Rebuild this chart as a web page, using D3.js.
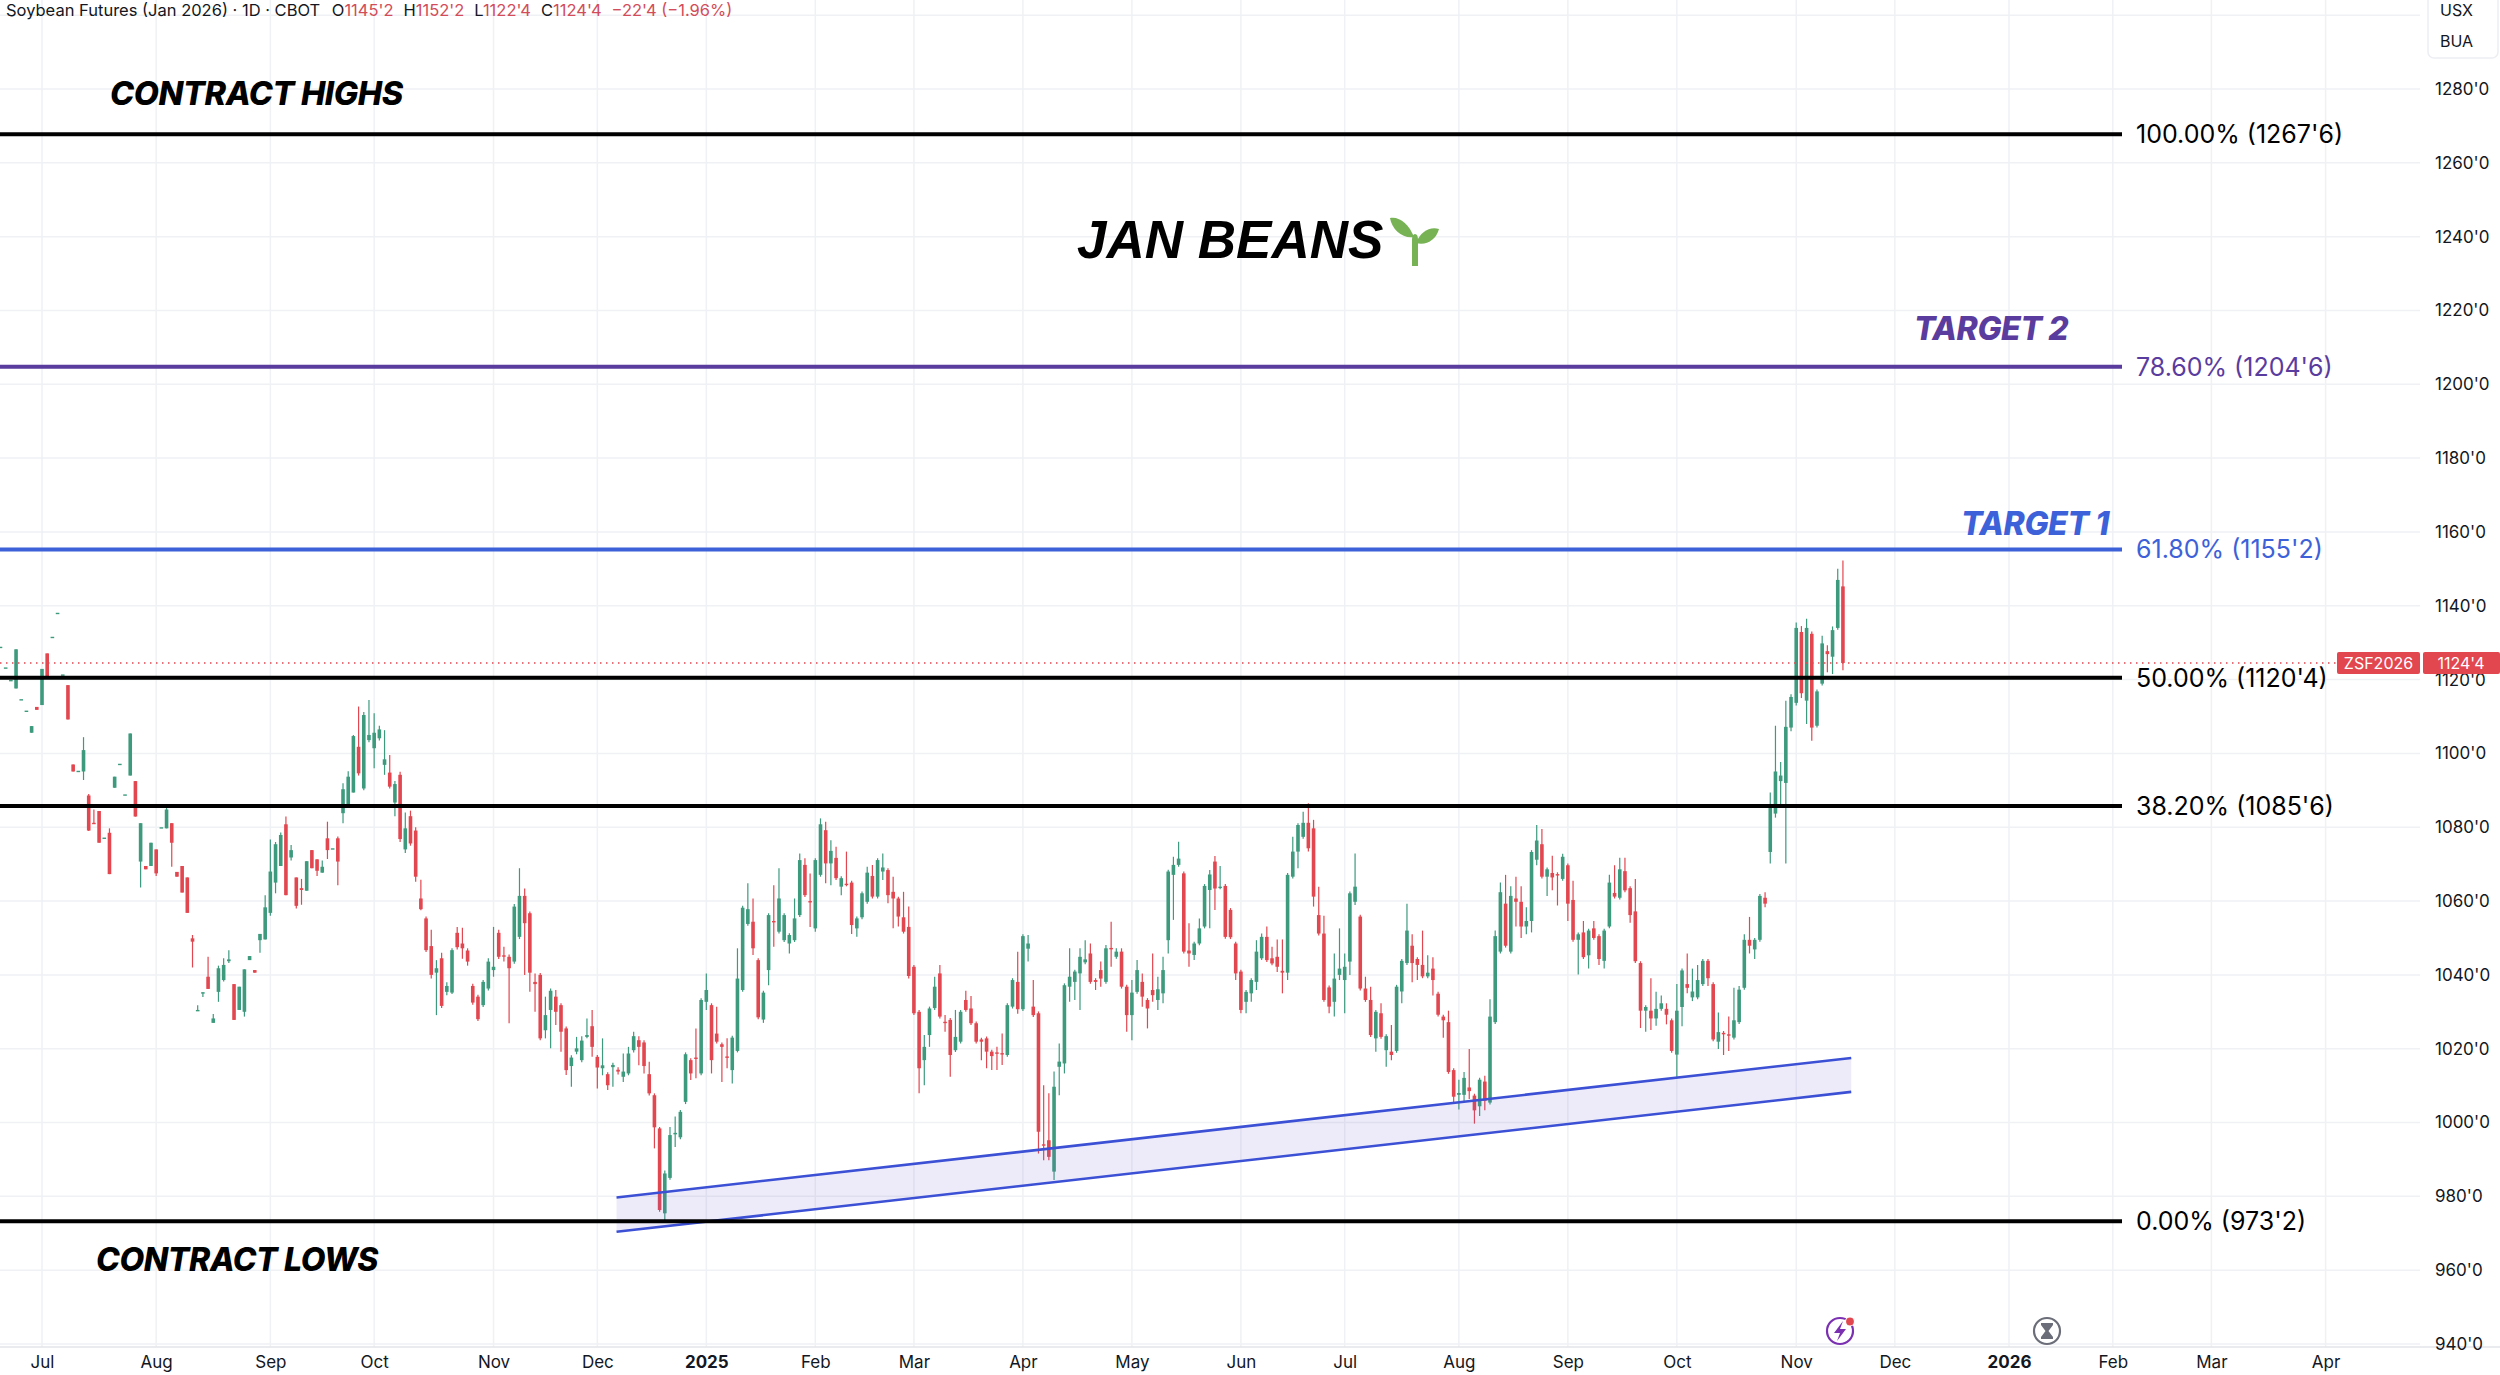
<!DOCTYPE html>
<html>
<head>
<meta charset="utf-8">
<script src="https://cdn.jsdelivr.net/npm/d3@7"></script>
<style>
  body { margin: 0; background: #ffffff; }
  svg { display: block; }
  text { white-space: pre; }
</style>
</head>
<body>
<div id="chart"></div>
<script>
// Daily OHLC of ZSF2026, first bar is 8 sessions before Jul 1 2024
var firstBar = -8;

var opens = [
  1128.9,1123.3,1119.9,1117.6,1114.7,1111.6,1105.6,1112.6,1113.1,1127.1,
  1131.6,1138.1,1121.4,1118.5,1097.0,1095.3,1095.1,1088.6,1081.2,1084.4,
  1077.2,1078.5,1090.7,1097.2,1088.9,1094.0,1092.5,1070.7,1069.5,1069.5,
  1074.0,1080.0,1079.7,1081.1,1067.9,1069.5,1066.4,1049.9,1030.5,1035.3,
  1039.5,1027.0,1035.4,1038.6,1043.7,1037.5,1030.5,1030.0,1044.0,1041.3,
  1049.4,1049.6,1056.8,1065.0,1069.5,1080.8,1071.8,1066.4,1063.5,1062.8,
  1073.8,1071.3,1067.7,1077.0,1074.3,1077.0,1083.8,1086.0,1089.4,1101.8,
  1090.5,1103.6,1101.4,1104.1,1096.9,1094.8,1086.7,1094.2,1074.0,1083.0,
  1079.1,1060.7,1055.3,1047.8,1040.6,1044.5,1035.4,1035.2,1051.4,1048.5,
  1046.6,1037.0,1034.1,1031.8,1036.3,1041.3,1051.4,1045.3,1044.9,1043.6,
  1050.3,1061.4,1056.7,1038.1,1040.0,1025.0,1030.5,1034.1,1031.8,1025.5,
  1015.3,1019.2,1016.9,1023.2,1026.1,1017.8,1014.7,1013.1,1015.0,1014.3,
  1012.4,1013.3,1019.6,1022.3,1021.7,1013.1,1007.4,998.4,975.4,985.0,
  996.8,996.0,1005.6,1016.9,1017.6,1013.3,1032.7,1031.8,1024.1,1021.2,
  1017.9,1014.2,1019.4,1035.9,1053.8,1054.4,1044.0,1027.9,1041.3,1054.6,
  1051.7,1049.4,1048.5,1049.4,1056.2,1069.8,1060.0,1052.6,1067.1,1079.2,
  1070.2,1071.7,1063.9,1064.7,1065.0,1052.6,1055.6,1059.8,1066.8,1061.2,
  1068.0,1068.4,1062.5,1060.7,1055.6,1053.0,1042.2,1030.0,1016.9,1023.7,
  1031.0,1040.4,1027.3,1027.8,1019.6,1021.9,1033.2,1030.9,1026.9,1022.5,
  1022.8,1019.2,1019.0,1018.8,1018.3,1031.4,1038.1,1030.7,1047.1,1031.4,
  1029.6,994.1,995.2,986.7,1015.1,1016.0,1036.8,1038.1,1040.4,1043.4,
  1045.8,1038.6,1041.3,1038.1,1047.3,1044.9,1046.3,1036.8,1029.1,1035.4,
  1038.1,1033.2,1035.9,1033.2,1035.0,1049.4,1067.1,1069.8,1067.5,1046.6,
  1045.4,1048.5,1053.1,1063.0,1070.7,1063.7,1064.1,1057.6,1048.5,1040.9,
  1032.7,1035.0,1038.1,1044.5,1050.3,1044.5,1044.9,1041.1,1040.6,1066.6,
  1073.4,1077.4,1081.2,1079.7,1056.2,1051.2,1036.6,1032.7,1040.0,1038.6,
  1043.6,1059.8,1055.8,1036.3,1033.2,1022.8,1029.6,1019.6,1019.2,1019.4,
  1035.5,1043.2,1047.9,1044.3,1042.7,1039.6,1041.7,1034.9,1028.7,1027.2,
  1014.2,1007.5,1007.5,1009.5,1007.3,1004.4,1011.1,1005.4,1027.2,1046.3,
  1059.3,1046.3,1060.7,1059.8,1053.1,1054.6,1071.2,1075.4,1066.6,1067.6,
  1067.3,1066.0,1069.7,1060.3,1049.5,1051.5,1045.3,1052.6,1050.5,1043.8,
  1053.1,1062.2,1060.9,1068.1,1063.5,1057.2,1043.2,1030.3,1030.3,1028.2,
  1030.8,1030.8,1027.7,1018.4,1031.3,1037.5,1033.9,1033.9,1037.5,1043.8,
  1037.5,1021.9,1024.3,1023.9,1023.0,1027.2,1036.5,1049.5,1046.9,1049.5,
  1060.9,1073.3,1083.7,1092.5,1092.0,1107.0,1113.7,1132.9,1114.3,1132.4,
  1107.5,1118.9,1127.7,1126.2,1134.0,1145.25
];

var highs = [
  1128.9,1123.3,1119.9,1128.2,1114.7,1111.6,1107.4,1112.6,1122.9,1127.1,
  1131.6,1138.1,1121.4,1118.5,1097.0,1095.3,1104.4,1089.0,1084.8,1084.4,
  1077.2,1079.7,1093.7,1097.2,1088.9,1105.4,1092.5,1081.1,1069.5,1075.8,
  1074.0,1080.0,1085.5,1081.1,1067.9,1069.5,1066.4,1050.8,1031.8,1035.3,
  1044.9,1029.4,1042.5,1044.5,1046.7,1037.5,1036.8,1041.5,1045.1,1041.3,
  1051.1,1061.6,1076.7,1076.0,1078.6,1082.9,1075.2,1066.4,1066.0,1070.8,
  1073.8,1071.3,1071.0,1081.5,1074.3,1077.5,1091.9,1095.2,1105.0,1112.7,
  1111.2,1114.5,1110.9,1107.5,1106.3,1099.6,1092.5,1095.0,1084.0,1084.5,
  1080.0,1065.8,1055.8,1052.2,1044.0,1046.0,1038.0,1047.2,1053.0,1052.8,
  1047.2,1037.6,1034.6,1038.6,1044.5,1053.0,1052.2,1047.6,1045.5,1059.2,
  1068.9,1063.4,1057.2,1040.4,1040.5,1034.1,1036.3,1035.9,1032.3,1026.0,
  1018.2,1023.2,1023.4,1028.2,1030.5,1018.3,1022.8,1013.6,1016.2,1015.0,
  1018.7,1020.5,1024.6,1023.4,1022.3,1016.5,1007.9,998.8,987.0,998.8,
  1001.6,1003.4,1019.0,1017.4,1025.5,1033.7,1040.4,1032.3,1031.4,1021.7,
  1022.8,1023.5,1047.2,1058.7,1064.8,1060.7,1044.5,1035.7,1056.7,1064.3,
  1068.9,1056.7,1051.3,1060.7,1072.9,1071.6,1067.5,1071.6,1082.4,1081.5,
  1076.5,1074.7,1066.7,1073.4,1065.5,1055.8,1062.6,1069.3,1069.8,1071.6,
  1072.9,1068.9,1066.6,1061.2,1062.5,1058.5,1042.7,1030.5,1023.7,1031.4,
  1039.5,1042.7,1029.1,1028.3,1030.5,1030.5,1035.7,1034.3,1027.4,1023.0,
  1023.3,1019.7,1020.5,1024.1,1032.3,1039.1,1046.3,1051.0,1050.8,1038.6,
  1030.1,1010.1,1007.9,1013.8,1021.4,1037.7,1047.2,1041.4,1047.2,1049.4,
  1048.5,1039.1,1043.6,1048.1,1054.4,1047.2,1047.2,1037.3,1038.6,1044.0,
  1040.4,1033.7,1045.8,1039.5,1044.9,1068.5,1072.0,1076.1,1068.0,1054.0,
  1049.0,1055.3,1064.6,1068.4,1072.2,1069.5,1064.6,1058.1,1049.0,1041.4,
  1035.9,1039.1,1049.4,1051.2,1053.1,1047.6,1049.6,1049.6,1067.6,1077.4,
  1081.1,1084.2,1086.5,1082.0,1063.9,1056.0,1037.1,1045.8,1052.6,1045.8,
  1062.6,1072.9,1056.3,1039.5,1036.8,1030.5,1032.3,1023.9,1026.4,1037.3,
  1044.3,1059.3,1051.0,1044.8,1052.0,1045.3,1044.8,1035.4,1029.2,1030.3,
  1014.7,1011.6,1013.7,1019.9,1007.8,1012.1,1012.7,1033.4,1052.0,1065.0,
  1067.1,1064.0,1066.6,1064.0,1058.3,1073.8,1080.6,1079.5,1069.1,1072.3,
  1067.8,1072.8,1070.2,1065.5,1051.5,1054.6,1052.5,1054.6,1051.0,1052.5,
  1067.1,1069.7,1071.7,1071.7,1064.0,1066.0,1043.7,1031.8,1039.1,1035.4,
  1034.4,1032.3,1028.2,1037.5,1041.7,1045.8,1041.7,1042.7,1044.3,1044.3,
  1038.0,1029.8,1024.8,1028.7,1036.5,1037.0,1051.0,1055.7,1050.0,1061.9,
  1062.4,1089.4,1107.5,1097.7,1114.3,1116.0,1135.5,1134.5,1136.5,1133.0,
  1117.3,1131.9,1129.3,1134.4,1150.0,1152.25
];

var lows = [
  1128.9,1123.3,1119.9,1117.6,1114.7,1111.6,1105.6,1111.8,1113.1,1120.4,
  1131.6,1138.1,1121.4,1109.2,1095.1,1095.3,1092.8,1079.0,1080.9,1075.8,
  1077.2,1067.3,1090.7,1097.2,1088.9,1094.0,1082.9,1063.7,1068.6,1069.5,
  1066.8,1080.0,1079.7,1069.3,1066.6,1062.3,1056.8,1042.0,1030.5,1034.0,
  1036.2,1027.0,1032.7,1038.2,1043.2,1027.8,1030.5,1028.7,1044.0,1040.6,
  1046.0,1049.6,1056.0,1062.1,1069.5,1061.6,1071.0,1058.0,1059.0,1062.8,
  1068.9,1066.8,1067.7,1071.4,1074.3,1064.3,1081.1,1086.0,1089.4,1094.0,
  1090.0,1103.0,1096.0,1103.5,1094.2,1090.5,1083.0,1076.0,1073.0,1075.0,
  1065.2,1057.5,1046.2,1039.0,1029.1,1031.0,1034.5,1034.8,1046.9,1044.4,
  1042.5,1031.9,1027.5,1031.3,1035.8,1039.5,1044.3,1043.6,1026.9,1043.0,
  1049.7,1040.0,1035.4,1030.0,1022.3,1022.8,1020.1,1026.4,1019.2,1012.9,
  1009.7,1018.5,1016.3,1022.8,1017.8,1009.2,1012.8,1008.8,1009.7,1013.0,
  1011.0,1012.8,1019.0,1015.5,1013.3,1007.3,993.0,975.8,973.25,984.5,
  993.4,995.5,1005.0,1011.5,1012.0,1012.8,1030.5,1013.3,1021.4,1011.0,
  1014.7,1010.6,1019.0,1035.4,1053.3,1045.4,1028.0,1027.0,1037.2,1047.6,
  1051.2,1048.9,1045.8,1048.9,1055.7,1061.1,1053.0,1051.7,1066.6,1064.8,
  1064.3,1065.7,1061.6,1064.0,1051.1,1050.3,1055.1,1059.3,1060.7,1060.7,
  1065.7,1059.4,1052.6,1053.1,1051.2,1039.0,1029.1,1007.9,1010.1,1020.5,
  1030.5,1028.2,1024.6,1012.4,1019.1,1021.4,1030.0,1026.4,1021.4,1016.9,
  1014.7,1014.2,1014.2,1015.6,1017.8,1030.9,1029.5,1030.2,1043.6,1028.6,
  991.6,989.8,989.8,984.4,1007.4,1013.3,1032.7,1033.2,1030.5,1042.9,
  1037.6,1035.9,1036.8,1037.6,1042.2,1044.4,1036.3,1024.6,1022.3,1034.9,
  1031.4,1025.5,1032.7,1030.5,1032.3,1045.8,1054.9,1069.3,1045.8,1042.2,
  1044.0,1048.0,1052.6,1052.6,1057.6,1063.2,1049.8,1049.7,1038.6,1029.6,
  1029.6,1032.7,1035.9,1044.0,1043.5,1042.6,1040.8,1035.0,1038.6,1066.1,
  1068.9,1076.9,1073.4,1058.5,1050.7,1032.7,1029.6,1028.7,1038.6,1029.6,
  1040.0,1058.9,1035.8,1032.7,1023.2,1019.2,1022.7,1015.1,1016.9,1018.9,
  1032.3,1042.7,1038.0,1038.6,1039.1,1039.1,1034.4,1028.7,1023.0,1013.2,
  1005.4,1003.5,1005.4,1006.4,999.7,1001.8,1003.3,1004.9,1026.7,1045.8,
  1047.4,1045.8,1053.1,1050.0,1051.0,1051.5,1069.7,1066.1,1061.4,1062.9,
  1058.8,1065.5,1054.6,1049.0,1040.1,1044.3,1041.7,1049.5,1042.7,1041.7,
  1052.6,1060.7,1060.4,1062.4,1054.1,1043.2,1025.6,1024.6,1025.1,1026.2,
  1030.3,1026.6,1018.9,1012.1,1026.1,1035.0,1032.9,1033.4,1037.0,1037.0,
  1022.0,1019.9,1018.3,1019.4,1022.5,1026.7,1036.0,1045.8,1044.3,1049.0,
  1058.3,1070.2,1082.6,1085.2,1070.2,1106.0,1113.0,1115.0,1108.0,1103.4,
  1107.0,1118.4,1122.0,1121.5,1133.5,1122.5
];

var closes = [
  1128.9,1123.3,1119.9,1128.2,1114.7,1111.6,1107.4,1111.8,1122.9,1120.4,
  1131.6,1138.1,1121.4,1109.2,1095.1,1095.3,1100.9,1079.1,1080.9,1075.8,
  1077.2,1067.3,1093.7,1097.2,1088.9,1105.4,1082.9,1081.1,1068.6,1075.8,
  1067.5,1080.0,1084.8,1075.8,1066.6,1062.3,1056.8,1049.0,1030.5,1035.3,
  1036.2,1028.2,1041.8,1042.7,1044.2,1027.8,1036.8,1041.5,1045.1,1040.6,
  1051.1,1058.3,1068.0,1075.4,1077.9,1061.6,1073.8,1058.7,1063.0,1070.8,
  1068.9,1068.2,1069.3,1073.8,1074.3,1070.7,1090.3,1093.7,1104.7,1094.6,
  1110.4,1105.0,1105.6,1106.5,1098.4,1091.0,1091.7,1076.8,1079.7,1075.6,
  1066.6,1057.8,1046.7,1040.0,1041.8,1031.6,1037.0,1046.7,1047.5,1047.2,
  1043.6,1032.5,1028.0,1038.1,1043.6,1042.2,1044.9,1045.0,1041.8,1058.5,
  1061.4,1054.0,1040.6,1037.5,1022.8,1029.1,1035.7,1030.0,1024.6,1014.2,
  1017.6,1020.1,1022.2,1023.7,1020.5,1014.9,1015.5,1010.1,1015.6,1013.8,
  1013.8,1018.7,1023.4,1020.5,1015.3,1007.9,998.7,976.3,986.2,996.6,
  997.2,1002.9,1018.5,1013.3,1017.4,1033.2,1035.9,1016.9,1021.9,1020.5,
  1017.8,1023.0,1039.0,1058.2,1057.8,1047.2,1028.5,1035.2,1056.2,1054.4,
  1060.7,1056.2,1050.8,1055.3,1071.1,1061.6,1059.8,1071.1,1080.8,1070.2,
  1073.6,1066.2,1066.2,1064.5,1053.5,1055.3,1062.1,1067.7,1061.2,1071.1,
  1069.1,1061.6,1060.7,1055.8,1051.7,1039.7,1029.6,1014.7,1020.5,1030.9,
  1036.8,1028.7,1027.1,1018.3,1023.2,1030.0,1030.5,1026.9,1021.9,1021.9,
  1019.2,1018.0,1018.9,1018.7,1031.8,1038.6,1030.7,1050.5,1048.5,1029.1,
  997.5,993.9,990.7,1009.7,1016.5,1037.2,1039.5,1040.9,1044.9,1044.2,
  1038.1,1038.1,1039.0,1047.2,1047.2,1046.3,1036.8,1029.1,1035.2,1041.3,
  1034.1,1030.9,1034.5,1036.1,1041.3,1068.0,1069.8,1071.5,1046.3,1045.8,
  1048.5,1052.6,1064.1,1067.2,1063.4,1063.9,1050.3,1050.2,1040.4,1030.5,
  1035.4,1038.6,1046.3,1050.3,1044.0,1043.1,1042.2,1040.6,1067.1,1073.4,
  1080.6,1081.2,1074.3,1061.2,1051.2,1033.2,1031.4,1039.0,1041.7,1042.2,
  1062.1,1063.9,1036.3,1033.2,1023.7,1030.0,1023.2,1023.4,1018.3,1036.8,
  1043.8,1052.0,1043.2,1042.7,1039.6,1040.6,1038.6,1029.2,1027.7,1013.7,
  1007.0,1008.0,1012.1,1008.5,1003.3,1011.6,1005.9,1028.7,1050.5,1062.4,
  1047.9,1061.4,1059.8,1053.1,1054.6,1073.3,1076.4,1066.6,1068.6,1066.4,
  1067.0,1072.0,1059.3,1049.5,1051.0,1044.8,1052.0,1050.0,1044.3,1052.0,
  1065.0,1061.2,1068.6,1062.9,1056.2,1043.7,1030.3,1031.3,1028.2,1030.8,
  1032.3,1029.2,1019.4,1030.3,1041.2,1036.5,1035.5,1038.6,1043.8,1039.1,
  1022.5,1024.5,1023.9,1023.8,1027.7,1036.0,1049.5,1047.9,1049.5,1061.4,
  1059.3,1085.2,1095.1,1094.0,1107.2,1115.3,1134.0,1116.3,1134.0,1107.0,
  1116.8,1129.8,1126.9,1133.4,1147.0,1124.5
];

// Time axis: first session of each month, as bar number
var monthLabels = ["Jul","Aug","Sep","Oct","Nov","Dec","2025","Feb","Mar","Apr","May","Jun",
                   "Jul","Aug","Sep","Oct","Nov","Dec","2026","Feb","Mar","Apr"];
var monthBars = [0,22,44,64,87,107,128,149,168,189,210,231,251,273,294,315,338,357,379,399,418,440];

// Price axis
var priceTicks = d3.range(940, 1281, 20);
var gridPrices = d3.range(940, 1301, 20);

// Fibonacci retracement levels
var fibPercents = ["100.00%", "78.60%", "61.80%", "50.00%", "38.20%", "0.00%"];
var fibPrices = [1267.75, 1204.75, 1155.25, 1120.5, 1085.75, 973.25];

// Rising channel (bar number, price) for both rails
var channelBars = [110.7, 348.6];
var channelUpper = [979.7, 1017.5];
var channelLower = [970.4, 1008.3];

var symbol = "ZSF2026";

// ---------- layout ----------
var svgWidth = 2500;
var svgHeight = 1375;
var plotRight = 2420;
var plotBottom = 1347;
var fibEnd = 2122;

var upColor = "#3d9a7d";
var downColor = "#e2464f";
var fibColors = ["#000000", "#5a3b9e", "#3d61d8", "#000000", "#000000", "#000000"];
var uiFont = "Inter, 'Liberation Sans', sans-serif";

var svg = d3.select("#chart")
  .append("svg")
  .attr("width", svgWidth)
  .attr("height", svgHeight);

svg.append("rect").attr("width", svgWidth).attr("height", svgHeight).attr("fill", "#ffffff");

var x = d3.scaleLinear()
  .domain([0, 347])
  .range([42, 42 + 347 * 5.19]);

var y = d3.scaleLinear()
  .domain([940, 1280])
  .range([1344, 89]);

var fmt = function (v) {
  var whole = Math.floor(v);
  return whole + "'" + Math.round((v - whole) * 8);
};

var bars = opens.map(function (o, k) {
  return { i: firstBar + k, o: o, h: highs[k], l: lows[k], c: closes[k] };
});

// Grid
svg.append("g").selectAll("line")
  .data(gridPrices)
  .enter()
  .append("line")
  .attr("x1", 0)
  .attr("x2", plotRight)
  .attr("y1", d => y(d))
  .attr("y2", d => y(d))
  .attr("stroke", "#eff1f4")
  .attr("stroke-width", 1.5);

svg.append("g").selectAll("line")
  .data(monthBars)
  .enter()
  .append("line")
  .attr("x1", d => x(d))
  .attr("x2", d => x(d))
  .attr("y1", 0)
  .attr("y2", plotBottom)
  .attr("stroke", "#eff1f4")
  .attr("stroke-width", 1.5);

svg.append("line")
  .attr("x1", 0).attr("x2", svgWidth)
  .attr("y1", plotBottom).attr("y2", plotBottom)
  .attr("stroke", "#e3e5ea")
  .attr("stroke-width", 1.5);

// Candles
var candles = svg.append("g").selectAll("g")
  .data(bars)
  .enter()
  .append("g")
  .attr("fill", d => d.c >= d.o ? upColor : downColor)
  .attr("stroke", d => d.c >= d.o ? upColor : downColor);

candles.append("line")
  .attr("x1", d => x(d.i))
  .attr("x2", d => x(d.i))
  .attr("y1", d => y(d.h))
  .attr("y2", d => y(d.l))
  .attr("stroke-width", 1.2);

candles.append("rect")
  .attr("x", d => x(d.i) - 1.8)
  .attr("width", 3.6)
  .attr("y", d => y(Math.max(d.o, d.c)))
  .attr("height", d => Math.max(1.4, Math.abs(y(d.o) - y(d.c))))
  .attr("stroke", "none");

// Channel
var channelArea = d3.area()
  .x((d, k) => x(channelBars[k]))
  .y0((d, k) => y(channelLower[k]))
  .y1(d => y(d));

svg.append("path")
  .datum(channelUpper)
  .attr("d", channelArea)
  .attr("fill", "rgba(118, 98, 210, 0.13)");

[channelUpper, channelLower].forEach(function (rail) {
  svg.append("line")
    .attr("x1", x(channelBars[0]))
    .attr("x2", x(channelBars[1]))
    .attr("y1", y(rail[0]))
    .attr("y2", y(rail[1]))
    .attr("stroke", "#3b50d4")
    .attr("stroke-width", 2.6);
});

// Last price line
var lastClose = closes[closes.length - 1];
svg.append("line")
  .attr("x1", 0)
  .attr("x2", 2337)
  .attr("y1", y(lastClose))
  .attr("y2", y(lastClose))
  .attr("stroke", downColor)
  .attr("stroke-width", 1.5)
  .attr("stroke-dasharray", "1.5,4.5");

// Fibonacci levels
var fib = svg.append("g").selectAll("g")
  .data(fibPrices)
  .enter()
  .append("g");

fib.append("line")
  .attr("x1", 0)
  .attr("x2", fibEnd)
  .attr("y1", d => y(d))
  .attr("y2", d => y(d))
  .attr("stroke", (d, k) => fibColors[k])
  .attr("stroke-width", 4);

fib.append("text")
  .attr("x", fibEnd + 14)
  .attr("y", d => y(d))
  .attr("dy", "0.36em")
  .attr("font-family", uiFont)
  .attr("font-size", 25)
  .attr("fill", (d, k) => fibColors[k])
  .text((d, k) => fibPercents[k] + " (" + fmt(d) + ")");

// Annotations
var noteFont = "Inter, 'Liberation Sans', sans-serif";
function note(txt, px, py, color, size) {
  svg.append("text")
    .attr("x", px)
    .attr("y", py)
    .attr("font-family", noteFont)
    .attr("font-weight", 800)
    .attr("font-style", "italic")
    .attr("font-size", size)
    .attr("letter-spacing", -0.4)
    .attr("fill", color)
    .text(txt);
}
note("CONTRACT HIGHS", 110, 105, "#000000", 32.5);
note("CONTRACT LOWS", 96, 1271, "#000000", 32);
note("TARGET 2", 1914, 340, fibColors[1], 32);
note("TARGET 1", 1961, 535, fibColors[2], 32);

svg.append("text")
  .attr("x", 1077)
  .attr("y", 258)
  .attr("font-family", "'Liberation Sans', Arial, sans-serif")
  .attr("font-weight", 700)
  .attr("font-style", "italic")
  .attr("font-size", 53)
  .attr("fill", "#000000")
  .text("JAN BEANS");

// seedling
var sprout = svg.append("g").attr("fill", "#77b255");
sprout.append("path")
  .attr("d", "M1414,237 C1409,224 1399,216 1390,218 C1392,230 1403,239 1414,237 Z");
sprout.append("path")
  .attr("d", "M1416,243 C1420,232 1430,226 1439,229 C1436,240 1426,246 1416,243 Z");
sprout.append("path")
  .attr("d", "M1412,266 L1412,240 Q1412,234 1415,234 Q1418,234 1418,240 L1418,266 Z");

// Price axis
var yAxis = d3.axisRight(y)
  .tickValues(priceTicks)
  .tickFormat(fmt)
  .tickSize(0)
  .tickPadding(15);

var yAxisGroup = svg.append("g")
  .attr("transform", `translate(${plotRight}, 0)`)
  .call(yAxis);
yAxisGroup.select(".domain").remove();
yAxisGroup.selectAll("text")
  .attr("font-family", uiFont)
  .attr("font-size", 17)
  .attr("fill", "#131722");

// Last price tags
svg.append("rect").attr("x", 2337).attr("y", y(lastClose) - 11).attr("width", 83).attr("height", 22)
  .attr("rx", 2).attr("fill", downColor);
svg.append("rect").attr("x", 2423).attr("y", y(lastClose) - 11).attr("width", 77).attr("height", 22)
  .attr("rx", 2).attr("fill", downColor);
svg.append("text").attr("x", 2378.5).attr("y", y(lastClose)).attr("dy", "0.36em")
  .attr("text-anchor", "middle").attr("font-family", uiFont).attr("font-size", 16)
  .attr("fill", "#ffffff").text(symbol);
svg.append("text").attr("x", 2461).attr("y", y(lastClose)).attr("dy", "0.36em")
  .attr("text-anchor", "middle").attr("font-family", uiFont).attr("font-size", 16)
  .attr("fill", "#ffffff").text(fmt(lastClose));

// Units box
svg.append("rect").attr("x", 2428).attr("y", -8).attr("width", 70).attr("height", 66)
  .attr("rx", 6).attr("fill", "#ffffff").attr("stroke", "#eceef2").attr("stroke-width", 1.5);
svg.append("text").attr("x", 2440).attr("y", 16).attr("font-family", uiFont)
  .attr("font-size", 16).attr("fill", "#131722").text("USX");
svg.append("text").attr("x", 2440).attr("y", 47).attr("font-family", uiFont)
  .attr("font-size", 16).attr("fill", "#131722").text("BUA");

// Time axis
var xAxis = d3.axisBottom(x)
  .tickValues(monthBars)
  .tickFormat((d, k) => monthLabels[k])
  .tickSize(0)
  .tickPadding(9);

var xAxisGroup = svg.append("g")
  .attr("transform", `translate(0, ${plotBottom})`)
  .call(xAxis);
xAxisGroup.select(".domain").remove();
xAxisGroup.selectAll("text")
  .attr("font-family", uiFont)
  .attr("font-size", 17)
  .attr("fill", "#131722")
  .attr("font-weight", (d, k) => /^\d{4}$/.test(monthLabels[k]) ? 700 : 400);

// Bottom icons
var bolt = svg.append("g");
bolt.append("circle").attr("cx", 1840).attr("cy", 1331).attr("r", 13)
  .attr("fill", "#ffffff").attr("stroke", "#7b30b2").attr("stroke-width", 2.2);
bolt.append("path").attr("d", "M1843,1321 L1834,1333 L1840,1333 L1837,1341 L1846,1329 L1840,1329 Z")
  .attr("fill", "#7b30b2");
bolt.append("circle").attr("cx", 1850).attr("cy", 1321.5).attr("r", 4.5)
  .attr("fill", downColor).attr("stroke", "#ffffff").attr("stroke-width", 1.2);

var glass = svg.append("g");
glass.append("circle").attr("cx", 2047).attr("cy", 1331).attr("r", 13)
  .attr("fill", "#ffffff").attr("stroke", "#6b6e78").attr("stroke-width", 2.2);
glass.append("path").attr("d", "M2041,1323 L2053,1323 L2053,1325 L2048.5,1331 L2053,1337 L2053,1339 L2041,1339 L2041,1337 L2045.5,1331 L2041,1325 Z")
  .attr("fill", "#6b6e78");

// Header legend
var headerValues = ["1145'2", "1152'2", "1122'4", "1124'4"];
var headerKeys = ["O", "H", "L", "C"];
var header = svg.append("text")
  .attr("x", 6)
  .attr("y", 16)
  .attr("font-family", uiFont)
  .attr("font-size", 16.5)
  .attr("fill", "#131722");
header.append("tspan").text("Soybean Futures (Jan 2026) · 1D · CBOT");
headerKeys.forEach(function (k, n) {
  header.append("tspan").attr("dx", n === 0 ? 12 : 10).text(k);
  header.append("tspan").attr("fill", "#d24c59").text(headerValues[n]);
});
header.append("tspan").attr("dx", 10).attr("fill", "#d24c59").text("\u221222'4 (\u22121.96%)");
</script>
</body>
</html>
